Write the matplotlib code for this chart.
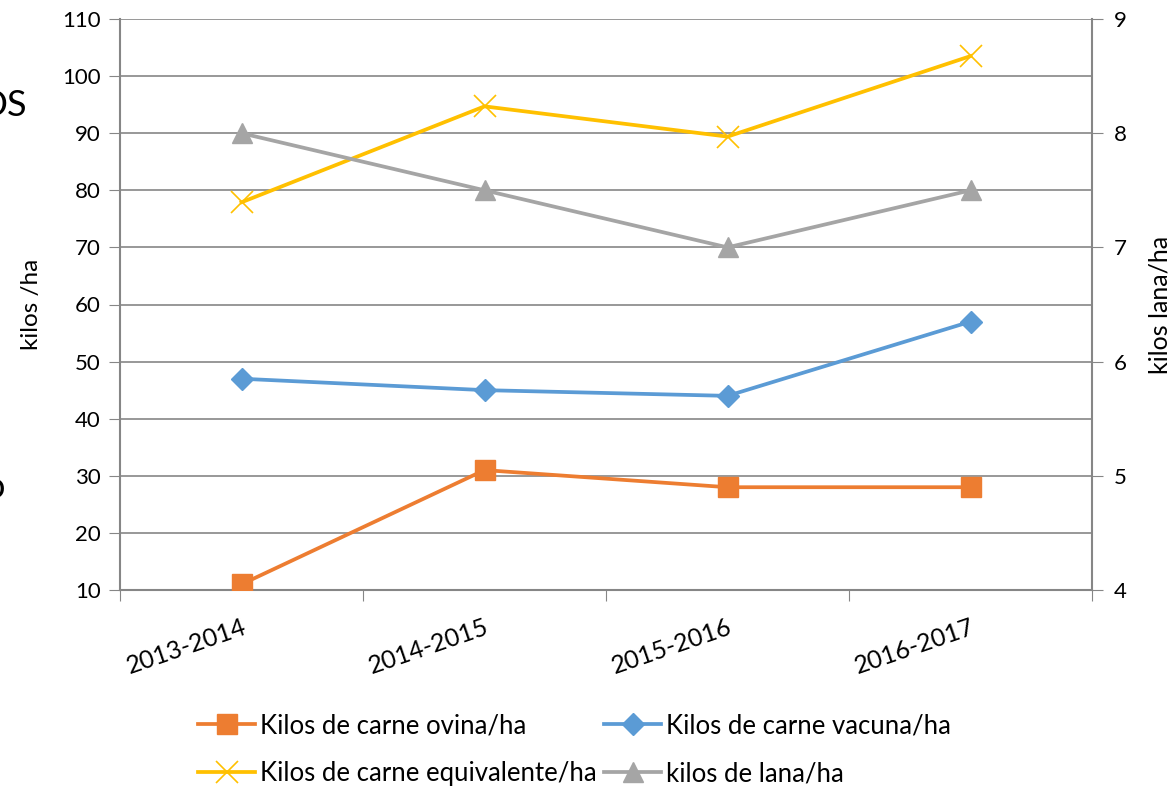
import matplotlib
matplotlib.use("Agg")
import matplotlib.pyplot as plt
import numpy as np

plt.rcParams['font.family'] = ['Lato', 'DejaVu Sans']

categories = ["2013-2014", "2014-2015", "2015-2016", "2016-2017"]
ovina = [11, 31, 28, 28]
vacuna = [47, 45, 44, 57]
equivalente = [77.9, 94.7, 89.4, 103.5]
lana = [8.0, 7.5, 7.0, 7.5]

c_ovina = "#ED7D31"
c_vacuna = "#5B9BD5"
c_equiv = "#FFC000"
c_lana = "#A5A5A5"
axis_col = "#868686"

W, H = 1173, 789
fig = plt.figure(figsize=(W / 100, H / 100), dpi=100)
ax = fig.add_axes([120 / W, 1 - 590 / H, (1092 - 120) / W, (590 - 19) / H])
ax2 = ax.twinx()

x = np.arange(len(categories))
l1, = ax.plot(x, ovina, color=c_ovina, lw=2.7, marker='s', ms=15, mec=c_ovina, mfc=c_ovina,
              label="Kilos de carne ovina/ha", zorder=5)
l2, = ax.plot(x, vacuna, color=c_vacuna, lw=2.7, marker='D', ms=11, mec=c_vacuna, mfc=c_vacuna,
              label="Kilos de carne vacuna/ha", zorder=5)
l3, = ax.plot(x, equivalente, color=c_equiv, lw=2.7, marker='x', ms=16, mew=1.2, mec=c_equiv,
              label="Kilos de carne equivalente/ha", zorder=5)
l4, = ax2.plot(x, lana, color=c_lana, lw=2.7, marker='^', ms=14, mec=c_lana, mfc=c_lana,
               label="kilos de lana/ha", zorder=5)

ax.set_xlim(-0.5, 3.5)
ax.set_ylim(10, 110)
ax.set_yticks(np.arange(10, 111, 10))
ax2.set_ylim(4, 9)
ax2.set_yticks(np.arange(4, 10, 1))

ax.set_xticks(np.arange(-0.5, 3.6, 1))
ax.set_xticklabels([])
ax.set_xticks(x, minor=True)
ax.set_xticklabels(categories, minor=True, fontsize=18)
for lab in ax.get_xticklabels(minor=True):
    lab.set_rotation(19)
    lab.set_ha('right')
    lab.set_va('top')
    lab.set_rotation_mode('anchor')
ax.tick_params(axis='x', which='minor', length=0, pad=18)
ax.tick_params(axis='x', which='major', length=8, color=axis_col, direction='out')

ax.yaxis.grid(True, color=axis_col, lw=1.2)
ax.set_axisbelow(True)
ax.tick_params(axis='y', length=8, color=axis_col, labelsize=16, pad=6)
ax2.tick_params(axis='y', length=8, color=axis_col, labelsize=16, pad=8)

for a in (ax, ax2):
    a.spines['top'].set_visible(False)
    for s in ('left', 'right', 'bottom'):
        a.spines[s].set_color(axis_col)
        a.spines[s].set_linewidth(1.5)
ax2.spines['left'].set_visible(False)
ax2.spines['bottom'].set_visible(False)
ax.spines['right'].set_visible(False)

ax.set_ylabel("kilos /ha", fontsize=17.5, labelpad=14)
ax2.set_ylabel("kilos lana/ha", fontsize=18, labelpad=15)

fig.text(27 / W, 1 - 105 / H, "OS", fontsize=26, ha='right', va='center')
fig.text(5 / W, 1 - 487 / H, "o", fontsize=26, ha='right', va='center')

fig.legend([l1, l3, l2, l4], [l.get_label() for l in (l1, l3, l2, l4)],
           ncol=2, loc='upper left', bbox_to_anchor=(188 / W, 1 - 703 / H),
           frameon=False, fontsize=18.5, handlelength=2.2, handletextpad=0.2,
           columnspacing=0.3, labelspacing=0.9, borderaxespad=0)

fig.savefig("out.png", dpi=100)
